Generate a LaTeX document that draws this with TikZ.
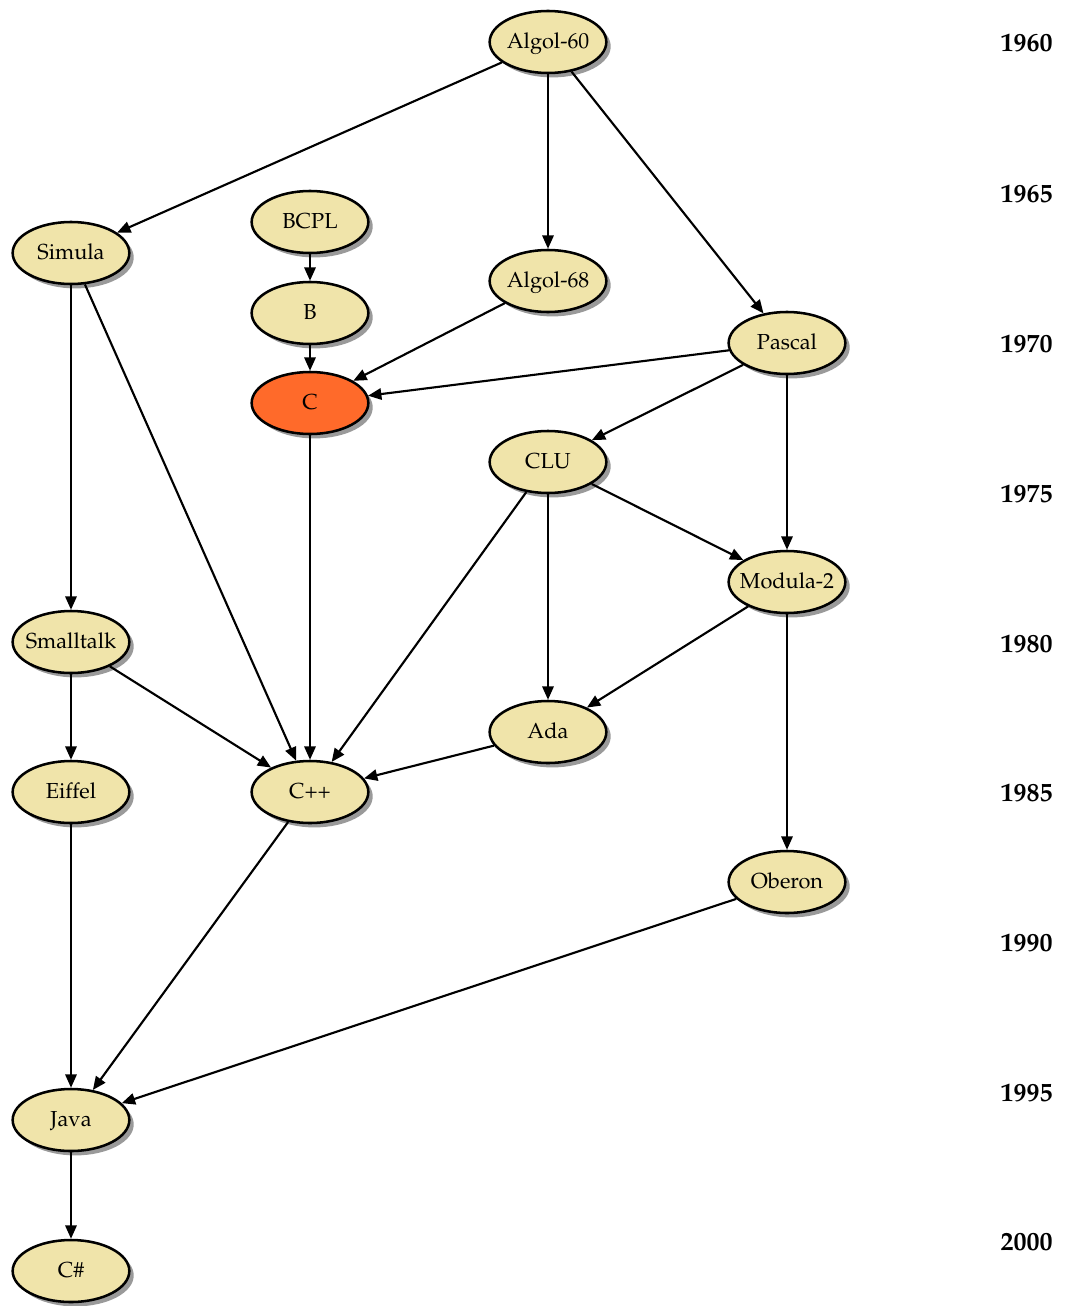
\documentclass[tikz,border=0pt]{standalone}
\usepackage[T1]{fontenc}
\usepackage{mathpazo}
\usetikzlibrary{shapes.geometric,arrows.meta,shadows}
\definecolor{khaki}{HTML}{F0E4AA}
\definecolor{corange}{HTML}{FF6A2A}
\definecolor{shadowgray}{HTML}{9A9A9A}
\tikzset{
  lang/.style={ellipse, draw=black, line width=1.9pt, fill=khaki,
    minimum width=87.5pt, minimum height=46.5pt, inner sep=0pt,
    text height=0.69em+3pt, text depth=0pt,
    font=\fontsize{16.3}{19}\selectfont,
    drop shadow={shadow xshift=3.3pt, shadow yshift=-3.3pt, fill=shadowgray, opacity=1}},
  hot/.style={lang, fill=corange},
  wide/.style={inner xsep=-5pt},
  yearlbl/.style={anchor=base east, inner sep=0pt, font=\fontsize{19.5}{22}\selectfont\bfseries},
  edge/.style={line width=1.6pt, -{Triangle[length=10pt,width=8.5pt]}}
}
\begin{document}
\begin{tikzpicture}[x=0.75pt,y=-0.75pt]
\useasboundingbox (0,0) rectangle (1066,1306);
% years
\node[yearlbl] (y1960) at (1053,52) {1960};
\node[yearlbl] (y1965) at (1053,202) {1965};
\node[yearlbl] (y1970) at (1053,352) {1970};
\node[yearlbl] (y1975) at (1053,502) {1975};
\node[yearlbl] (y1980) at (1053,652) {1980};
\node[yearlbl] (y1985) at (1053,801) {1985};
\node[yearlbl] (y1990) at (1053,951) {1990};
\node[yearlbl] (y1995) at (1053,1101) {1995};
\node[yearlbl] (y2000) at (1053,1250) {2000};
% languages
\node[lang] (algol60) at (548,42) {Algol-60};
\node[lang] (simula) at (71,253) {Simula};
\node[lang] (bcpl) at (310,222) {BCPL};
\node[lang] (algol68) at (548,281) {Algol-68};
\node[lang] (b) at (310,313) {B};
\node[lang] (pascal) at (787,343) {Pascal};
\node[hot] (c) at (310,403) {C};
\node[lang] (clu) at (548,462) {CLU};
\node[lang,wide] (modula) at (787,582) {Modula-2};
\node[lang,wide] (smalltalk) at (71,642) {Smalltalk};
\node[lang] (ada) at (548,732) {Ada};
\node[lang] (eiffel) at (71,792) {Eiffel};
\node[lang] (cpp) at (310,792) {C++};
\node[lang] (oberon) at (787,882) {Oberon};
\node[lang] (java) at (71,1120) {Java};
\node[lang] (csharp) at (71,1271) {C\#};
% edges
\draw[edge] (algol60) -- (simula);
\draw[edge] (algol60) -- (algol68);
\draw[edge] (algol60) -- (pascal);
\draw[edge] (bcpl) -- (b);
\draw[edge] (b) -- (c);
\draw[edge] (algol68) -- (c);
\draw[edge] (pascal) -- (c);
\draw[edge] (pascal) -- (clu);
\draw[edge] (pascal) -- (modula);
\draw[edge] (simula) -- (smalltalk);
\draw[edge] (simula) -- (cpp);
\draw[edge] (c) -- (cpp);
\draw[edge] (clu) -- (modula);
\draw[edge] (clu) -- (ada);
\draw[edge] (clu) -- (cpp);
\draw[edge] (modula) -- (ada);
\draw[edge] (modula) -- (oberon);
\draw[edge] (smalltalk) -- (eiffel);
\draw[edge] (smalltalk) -- (cpp);
\draw[edge] (ada) -- (cpp);
\draw[edge] (eiffel) -- (java);
\draw[edge] (cpp) -- (java);
\draw[edge] (oberon) -- (java);
\draw[edge] (java) -- (csharp);
\end{tikzpicture}
\end{document}
